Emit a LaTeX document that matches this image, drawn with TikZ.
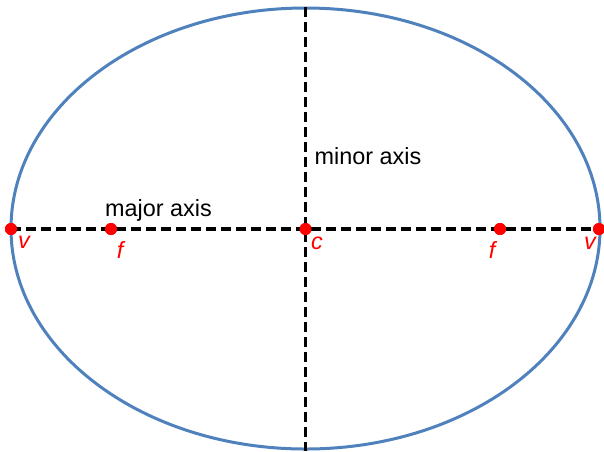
\documentclass[tikz,border=0pt]{standalone}
\usepackage{fontspec}
\setmainfont{Liberation Sans}
\usetikzlibrary{positioning}
\definecolor{rimBlue}{RGB}{79, 129, 189}
\definecolor{dotRed}{RGB}{255, 0, 0}

\tikzset{
  axisline/.style={draw=black, line width=3.6pt, dash pattern=on 10pt off 5pt},
  pointdot/.style={circle, fill=dotRed, inner sep=0pt, minimum size=12pt},
  pointname/.style={text=dotRed, font=\fontsize{23.4pt}{26pt}\selectfont\itshape, inner sep=0pt},
  axisname/.style={font=\fontsize{23.4pt}{26pt}\selectfont, inner sep=0pt, anchor=base west}
}

\begin{document}
\begin{tikzpicture}[x=1pt, y=-1pt]
  \useasboundingbox (0,0) rectangle (604,451);
  \clip (0,0) rectangle (604,451);
  % outline
  \draw[rimBlue, line width=3pt] (305.5,228.5) ellipse [x radius=294.5, y radius=220.5];
  % axes
  \coordinate (top) at (305.5,7);
  \coordinate (bottom) at (305.5,451);
  \node[pointdot] (vleft) at (11,229) {};
  \node[pointdot] (fleft) at (111,229) {};
  \node[pointdot] (center) at (305.5,229) {};
  \node[pointdot] (fright) at (500,229) {};
  \node[pointdot] (vright) at (599,229) {};
  \draw[axisline] (vleft.center) -- (vright.center);
  \draw[axisline] (top) -- (bottom);
  \foreach \p in {vleft,fleft,center,fright,vright} \node[pointdot] at (\p) {};
  % names
  \node[pointname] (vleftname) at (24,242) {v};
  \node[pointname] (fleftname) at (120,250) {f};
  \node[pointname] (centername) at (317,243) {c};
  \node[pointname] (frightname) at (492,250) {f};
  \node[pointname] (vrightname) at (590,243) {v};
  \node[axisname] (majorname) at (105,216.5) {major axis};
  \node[axisname] (minorname) at (314.5,164) {minor axis};
\end{tikzpicture}
\end{document}
